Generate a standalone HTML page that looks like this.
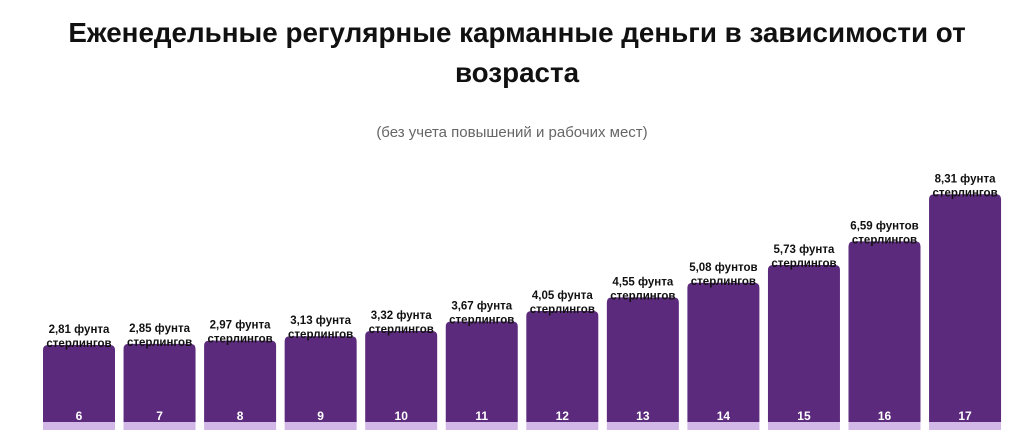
<!DOCTYPE html>
<html><head><meta charset="utf-8">
<style>
html,body{margin:0;padding:0;background:#fff;}
body{width:1024px;height:448px;overflow:hidden;position:relative;font-family:"Liberation Sans",sans-serif;}
#title{position:absolute;left:5px;top:13px;width:1024px;text-align:center;font-weight:bold;font-size:27.8px;line-height:40px;color:#111;}
#sub{position:absolute;left:0;top:124px;width:1024px;text-align:center;font-size:15px;color:#666;}
svg{position:absolute;left:0;top:0;}
</style></head><body>
<div id="title">Еженедельные регулярные карманные деньги в зависимости от<br>возраста</div>
<div id="sub">(без учета повышений и рабочих мест)</div>
<svg id="chart" width="1024" height="448"></svg>
<script>
const ages=["6","7","8","9","10","11","12","13","14","15","16","17"];
const values=[2.81,2.85,2.97,3.13,3.32,3.67,4.05,4.55,5.08,5.73,6.59,8.31];
const valueLabels=["2,81 фунта","2,85 фунта","2,97 фунта","3,13 фунта","3,32 фунта","3,67 фунта","4,05 фунта","4,55 фунта","5,08 фунтов","5,73 фунта","6,59 фунтов","8,31 фунта"];
const ns="http://www.w3.org/2000/svg";
const svg=document.getElementById('chart');
const base=422, scale=27.4, x0=43, pitch=80.55, bw=72;
function xPos(i){return x0+i*pitch;}
function yPos(v){return base-v*scale;}
function mk(t,a){const e=document.createElementNS(ns,t);for(const k in a)e.setAttribute(k,a[k]);svg.appendChild(e);return e;}
values.forEach((v,i)=>{
  const x=xPos(i),y=yPos(v);
  const b=mk('path',{d:`M${x},${base}V${y+5}Q${x},${y} ${x+5},${y}H${x+bw-5}Q${x+bw},${y} ${x+bw},${y+5}V${base}Z`,fill:'#5b2a7c'});
  
  
  const s=mk('rect',{x:x,y:base,width:bw,height:8,fill:'#d2b8e6'});
  
  
  const a=mk('text',{x:x+bw/2,y:base-2,'text-anchor':'middle','font-size':'12','font-weight':'bold',fill:'#fff'});
  a.textContent=ages[i];
  
  
  const l1=mk('text',{x:x+bw/2,y:y-12,'text-anchor':'middle','font-size':'11.5','font-weight':'bold',fill:'#111'});
  l1.textContent=valueLabels[i];
  
  
  const l2=mk('text',{x:x+bw/2,y:y+2,'text-anchor':'middle','font-size':'11.5','font-weight':'bold',fill:'#111'});
  l2.textContent='стерлингов';
  
  
});
</script>
</body></html>
